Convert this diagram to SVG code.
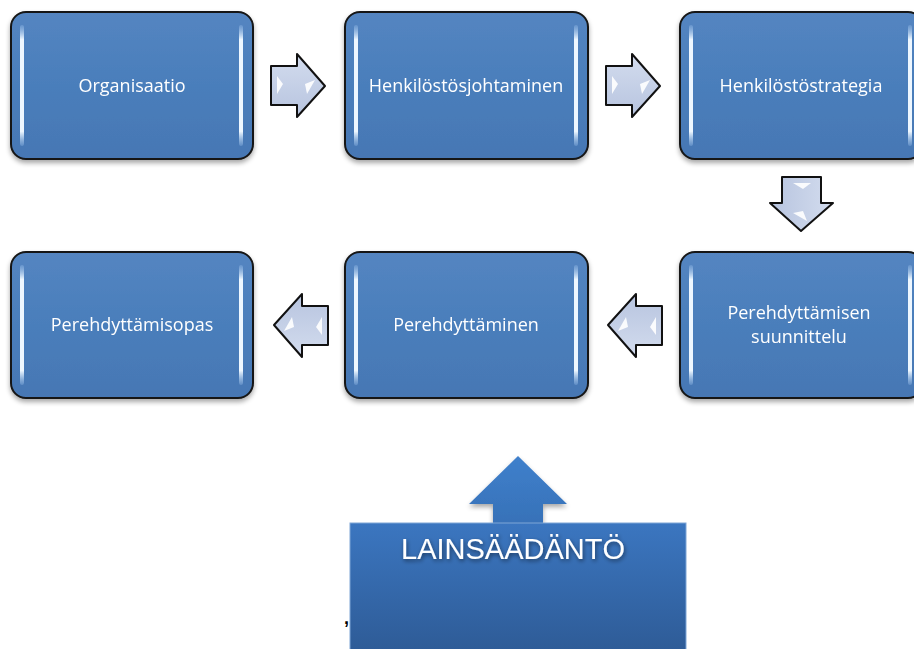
<svg xmlns="http://www.w3.org/2000/svg" width="914" height="649" viewBox="0 0 914 649">
<defs>
<linearGradient id="boxg" x1="0" y1="0" x2="0" y2="1">
<stop offset="0" stop-color="#5485c1"/><stop offset="0.5" stop-color="#4a7ebb"/><stop offset="1" stop-color="#4677b4"/>
</linearGradient>
<linearGradient id="arrg" x1="0" y1="0" x2="0" y2="1">
<stop offset="0" stop-color="#d3dcee"/><stop offset="1" stop-color="#b7c4df"/>
</linearGradient>
<linearGradient id="hl" x1="0" y1="0" x2="0" y2="1">
<stop offset="0" stop-color="#9ec3ee" stop-opacity="0.3"/><stop offset="0.12" stop-color="#eef7ff"/><stop offset="0.88" stop-color="#eef7ff"/><stop offset="1" stop-color="#9ec3ee" stop-opacity="0.3"/>
</linearGradient>
<linearGradient id="bigar" x1="0" y1="0" x2="0" y2="1">
<stop offset="0" stop-color="#3f80cc"/><stop offset="1" stop-color="#3670b6"/>
</linearGradient>
<linearGradient id="bigrect" x1="0" y1="0" x2="0" y2="1">
<stop offset="0" stop-color="#3b76c0"/><stop offset="1" stop-color="#2e5b96"/>
</linearGradient>
<filter id="sh" x="-10%" y="-10%" width="120%" height="130%">
<feGaussianBlur in="SourceAlpha" stdDeviation="2.5"/><feOffset dy="3" result="b"/>
<feComponentTransfer><feFuncA type="linear" slope="0.35"/></feComponentTransfer>
<feMerge><feMergeNode/><feMergeNode in="SourceGraphic"/></feMerge>
</filter>
<filter id="tsh" x="-10%" y="-30%" width="120%" height="160%">
<feGaussianBlur in="SourceAlpha" stdDeviation="2"/><feOffset dx="1" dy="2"/>
<feComponentTransfer><feFuncA type="linear" slope="0.5"/></feComponentTransfer>
<feMerge><feMergeNode/><feMergeNode in="SourceGraphic"/></feMerge>
</filter>
<g id="rarrow">
<path d="M0,12 H26 V0 L54,32 L26,63 V51 H0 Z" fill="url(#arrg)" stroke="#111" stroke-width="2" stroke-linejoin="round"/>
<path d="M6,22 L12,30 L6,40 Z" fill="#ffffff" opacity="0.9"/>
<path d="M34,30 L44,26 L36,40 Z" fill="#ffffff" opacity="0.9"/>
</g>
</defs>
<style>
.box{fill:url(#boxg);stroke:#161616;stroke-width:2}
.hl{fill:url(#hl)}
.t{font-family:"Open Sans","Liberation Sans",sans-serif;font-size:18px;fill:#ffffff;text-anchor:middle}
</style>
<g id="connectors">
<use href="#rarrow" x="271" y="54"/>
<use href="#rarrow" x="606" y="54"/>
<use href="#rarrow" transform="translate(833,177) rotate(90)"/>
<use href="#rarrow" transform="translate(662,357) rotate(180)"/>
<use href="#rarrow" transform="translate(328,357) rotate(180)"/>
</g>
<g id="n1" filter="url(#sh)">
<rect class="box" x="11" y="12" width="242" height="147" rx="15"/>
<rect class="hl" x="20" y="25" width="4" height="121" rx="2"/>
<rect class="hl" x="239" y="25" width="4" height="121" rx="2"/>
<text class="t" x="132" y="92">Organisaatio</text>
</g>
<g id="n2" filter="url(#sh)">
<rect class="box" x="345" y="12" width="243" height="147" rx="15"/>
<rect class="hl" x="354" y="25" width="4" height="121" rx="2"/>
<rect class="hl" x="574" y="25" width="4" height="121" rx="2"/>
<text class="t" x="466" y="92">Henkilöstösjohtaminen</text>
</g>
<g id="n3" filter="url(#sh)">
<rect class="box" x="680" y="12" width="243" height="147" rx="15"/>
<rect class="hl" x="689" y="25" width="4" height="121" rx="2"/>
<rect class="hl" x="908" y="25" width="4" height="121" rx="2"/>
<text class="t" x="801" y="92">Henkilöstöstrategia</text>
</g>
<g id="n4" filter="url(#sh)">
<rect class="box" x="11" y="252" width="242" height="146" rx="15"/>
<rect class="hl" x="20" y="265" width="4" height="120" rx="2"/>
<rect class="hl" x="239" y="265" width="4" height="120" rx="2"/>
<text class="t" x="132" y="331">Perehdyttämisopas</text>
</g>
<g id="n5" filter="url(#sh)">
<rect class="box" x="345" y="252" width="243" height="146" rx="15"/>
<rect class="hl" x="354" y="265" width="4" height="120" rx="2"/>
<rect class="hl" x="574" y="265" width="4" height="120" rx="2"/>
<text class="t" x="466" y="331">Perehdyttäminen</text>
</g>
<g id="n6" filter="url(#sh)">
<rect class="box" x="680" y="252" width="243" height="146" rx="15"/>
<rect class="hl" x="689" y="265" width="4" height="120" rx="2"/>
<rect class="hl" x="908" y="265" width="4" height="120" rx="2"/>
<text class="t" x="799" y="319">Perehdyttämisen</text>
<text class="t" x="799" y="343">suunnittelu</text>
</g>
<g id="n7">
<path d="M518,456 L567,504 H543 V530 H493 V504 H469 Z" fill="url(#bigar)" filter="url(#sh)"/>
<rect x="350" y="523" width="336" height="130" fill="url(#bigrect)" stroke="#7fa6d6" stroke-width="1"/>
<text x="513" y="559" font-family="'Liberation Sans',Arial,sans-serif" font-size="29" fill="#ffffff" text-anchor="middle" filter="url(#tsh)">LAINSÄÄDÄNTÖ</text>
</g>
<text x="344" y="624" font-family="'Liberation Sans',sans-serif" font-size="18" font-weight="bold" fill="#000">,</text>
</svg>
